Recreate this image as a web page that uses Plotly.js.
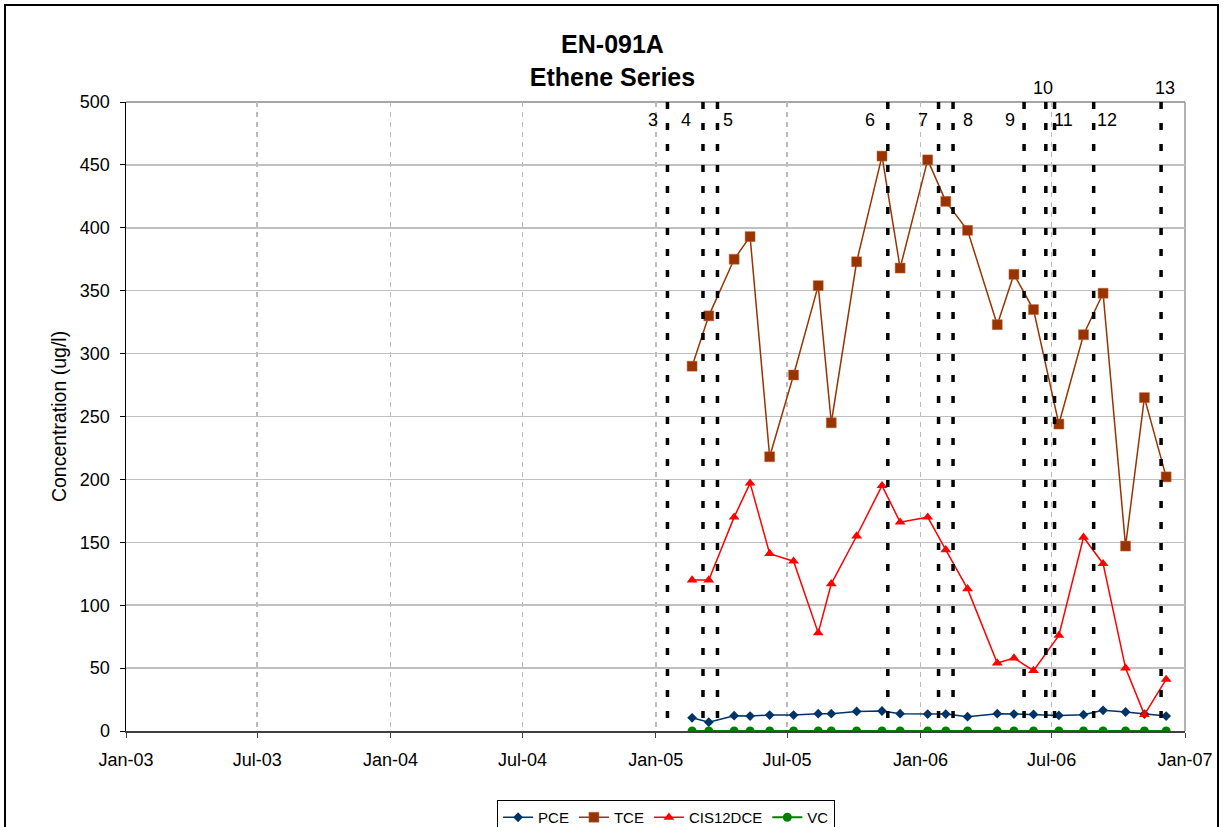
<!DOCTYPE html>
<html>
<head>
<meta charset="utf-8">
<script src="https://cdn.plot.ly/plotly-3.0.1.min.js"></script>
<style>
  html, body { margin: 0; padding: 0; background: #ffffff; overflow: hidden; }
  #chart { width: 1225px; height: 827px; position: absolute; left: 0; top: 0; }
  #frame { position: absolute; left: 4px; top: 4px; width: 1211px; height: 900px;
           border: 2px solid #000; pointer-events: none; z-index: 10; }
</style>
</head>
<body>
<div id="chart"></div>
<div id="frame"></div>
<script>
// ---- Data ----
const sampleDates = ['2005-02-20','2005-03-15','2005-04-19','2005-05-11','2005-06-07','2005-07-10',
  '2005-08-13','2005-08-31','2005-10-05','2005-11-09','2005-12-04','2006-01-11','2006-02-05',
  '2006-03-07','2006-04-17','2006-05-10','2006-06-06','2006-07-11','2006-08-14','2006-09-10',
  '2006-10-11','2006-11-06','2006-12-06'];
const pce = [10.5, 7, 12.2, 11.9, 12.7, 12.7, 13.8, 13.8, 15.6, 15.9, 13.8, 13.5, 13.5,
  11.4, 13.8, 13.5, 13.2, 12.4, 13, 16.4, 15.1, 13.5, 11.9];
const tce = [290, 330, 375, 393, 218, 283, 354, 245, 373, 457, 368, 454, 421,
  398, 323, 363, 335, 244, 315, 348, 147, 265, 202];
const cis12dce = [120, 120, 170, 197, 141, 135, 78, 117, 155, 195, 166, 170, 144,
  113, 54, 58, 48, 76, 154, 133, 50, 13, 41];
const vc = [0, 0, 0, 0, 0, 0, 0, 0, 0, 0, 0, 0, 0, 0, 0, 0, 0, 0, 0, 0, 0, 0, 0];

const eventLabels = ['3','4','5','6','7','8','9','10','11','12','13'];
const eventDates = ['2005-01-17','2005-03-07','2005-03-27','2005-11-17','2006-01-26','2006-02-15',
  '2006-05-24','2006-06-23','2006-07-05','2006-08-28','2006-11-29'];

// ---- Styling / placement (not data) ----
const labelShift = [-14, -17, 11, -18, -16, 15, -14, -3, 9, 13, 4];
const labelUpper = [false,false,false,false,false,false,false,true,false,false,true];

const font = 'Liberation Sans, Arial, sans-serif';

const traces = [
  { name: 'PCE', x: sampleDates, y: pce, type: 'scatter', mode: 'lines+markers',
    line: { color: '#003366', width: 1.5 },
    marker: { symbol: 'diamond', size: 7.5, color: '#003366' } },
  { name: 'TCE', x: sampleDates, y: tce, type: 'scatter', mode: 'lines+markers',
    line: { color: '#993300', width: 1.5 },
    marker: { symbol: 'square', size: 10, color: '#993300', line: { color: '#c06a40', width: 0.5 } } },
  { name: 'CIS12DCE', x: sampleDates, y: cis12dce, type: 'scatter', mode: 'lines+markers',
    line: { color: '#FF0000', width: 1.5 },
    marker: { symbol: 'triangle-up', size: 9.5, color: '#FF0000' } },
  { name: 'VC', x: sampleDates, y: vc, type: 'scatter', mode: 'lines+markers',
    line: { color: '#008000', width: 2 },
    marker: { symbol: 'circle', size: 9, color: '#008000' } }
];

const shapes = eventDates.map(d => ({
  type: 'line', xref: 'x', yref: 'paper', x0: d, x1: d, y0: 1, y1: 0,
  line: { color: '#000000', width: 3.5, dash: '7px,14px' }, layer: 'above'
}));
// plot-area border (top and right, gray)
shapes.push({ type: 'line', xref: 'paper', yref: 'paper', x0: 0, x1: 1, y0: 1, y1: 1,
  line: { color: '#888888', width: 1.5 }, layer: 'below' });
shapes.push({ type: 'line', xref: 'paper', yref: 'paper', x0: 1, x1: 1, y0: 0, y1: 1,
  line: { color: '#999999', width: 1.5 }, layer: 'below' });

const annotations = eventLabels.map((t, i) => ({
  text: t, x: eventDates[i], xref: 'x', yref: 'paper',
  y: labelUpper[i] ? 1.0223 : 0.9714, xshift: labelShift[i],
  showarrow: false, xanchor: 'center', yanchor: 'middle',
  font: { family: font, size: 18, color: '#000' }
}));

const layout = {
  width: 1225, height: 827,
  margin: { l: 126, r: 40, t: 102, b: 96, pad: 0, autoexpand: false },
  paper_bgcolor: '#ffffff', plot_bgcolor: '#ffffff',
  font: { family: font, color: '#000' },
  title: { text: '<b>EN-091A</b><br><b>Ethene Series</b>', xref: 'container', x: 0.5,
    yref: 'container', y: 1 - 53/827, yanchor: 'top', automargin: false,
    font: { family: font, size: 25, color: '#000' } },
  xaxis: {
    type: 'date', range: ['2003-01-01', '2007-01-01'],
    tick0: '2003-01-01', dtick: 'M6', tickformat: '%b-%y',
    showgrid: true, gridcolor: '#BBBBBB', gridwidth: 1.5, griddash: '5px,5px',
    showline: true, linecolor: '#404040', linewidth: 2,
    ticks: 'outside', ticklen: 5, tickcolor: '#404040', tickwidth: 1,
    tickfont: { family: font, size: 18, color: '#000' },
    ticklabelstandoff: 6,
    zeroline: false, fixedrange: true
  },
  yaxis: {
    range: [0, 500], dtick: 50, tick0: 0,
    showgrid: true, gridcolor: '#C0C0C0', gridwidth: 1.5,
    showline: true, linecolor: '#000000', linewidth: 1.5,
    ticks: 'outside', ticklen: 5, tickcolor: '#000', tickwidth: 1,
    tickfont: { family: font, size: 18, color: '#000' },
    ticklabelstandoff: 6,
    title: { text: 'Concentration (ug/l)', font: { family: font, size: 19.5, color: '#000' }, standoff: 8 },
    zeroline: false, fixedrange: true
  },
  legend: {
    orientation: 'h', x: 0.51, xanchor: 'center',
    yref: 'container', y: 1 - 800/827, yanchor: 'top',
    bordercolor: '#000', borderwidth: 1, bgcolor: '#fff',
    font: { family: font, size: 15, color: '#000' },
    traceorder: 'normal', itemwidth: 30
  },
  showlegend: true,
  shapes: shapes,
  annotations: annotations
};

Plotly.newPlot('chart', traces, layout, { staticPlot: true, displayModeBar: false });
</script>
</body>
</html>
